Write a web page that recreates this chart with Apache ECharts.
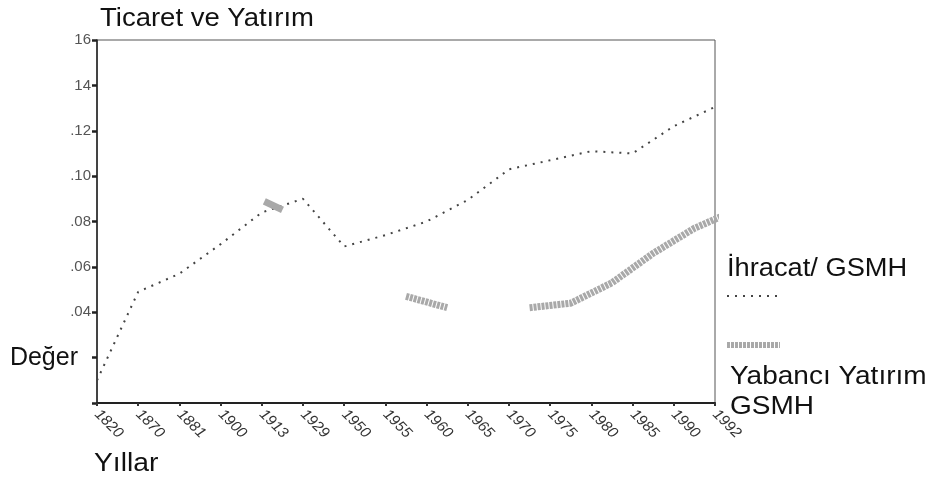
<!DOCTYPE html>
<html>
<head>
<meta charset="utf-8">
<script src="https://cdn.jsdelivr.net/npm/echarts@6/dist/echarts.min.js"></script>
<style>html,body{margin:0;padding:0;background:#fff}#c{width:935px;height:479px}</style>
</head>
<body>
<div id="c"></div>
<script>
const categories = ['1820','1870','1881','1900','1913','1929','1950','1955','1960','1965','1970','1975','1980','1985','1990','1992'];
const exportGdp = [0.010,0.049,0.057,0.070,0.084,0.090,0.069,0.074,0.080,0.0895,0.103,0.107,0.111,0.110,0.122,0.1305];
const fdiGdp = [null,null,null,null,0.087,null,null,0.047,0.042,null,0.042,0.044,0.053,0.066,0.077,0.085];
const yTickLabels = ['', 'Değer', '.04', '.06', '.08', '.10', '.12', '14', '16'];
const seriesNames = ['İhracat/ GSMH', 'Yabancı Yatırım\nGSMH'];

const FONT = 'Liberation Sans, Arial, sans-serif';
const fdiData = fdiGdp.map((v, i) => {
  if (v == null) return [i + 0.5, null];
  const isolated = (i === 0 || fdiGdp[i - 1] == null) && (i === fdiGdp.length - 1 || fdiGdp[i + 1] == null);
  if (isolated) {
    return { value: [i + 0.5, v], symbol: 'rect', symbolSize: [20, 7], symbolRotate: -25, symbolOffset: [-9, 0],
             itemStyle: { color: '#a9a9a9' } };
  }
  return [i + 0.5, v];
});

const chart = echarts.init(document.getElementById('c'));
chart.setOption({
  animation: false,
  backgroundColor: '#fff',
  grid: { left: 97, right: 220, top: 40, bottom: 76, show: true, borderColor: '#555', borderWidth: 1, backgroundColor: 'transparent' },
  xAxis: [{
    type: 'category', data: categories, boundaryGap: false,
    axisLine: { lineStyle: { color: '#222', width: 2 } },
    axisTick: { show: true, length: 3, lineStyle: { color: '#333', width: 2 } },
    axisLabel: { rotate: -45, margin: 9, fontSize: 15, fontStyle: 'italic', color: '#333', fontFamily: FONT, interval: 0 },
    splitLine: { show: false }
  }, {
    type: 'value', min: 0, max: categories.length - 1, show: false, splitLine: { show: false }
  }],
  yAxis: {
    type: 'value', min: 0, max: 0.16, interval: 0.02,
    axisLine: { show: true, lineStyle: { color: '#222', width: 1.5 } },
    axisTick: { show: true, length: 5, lineStyle: { color: '#222', width: 2.5 } },
    splitLine: { show: false },
    axisLabel: {
      margin: 6, fontFamily: FONT,
      formatter: v => {
        const t = yTickLabels[Math.round(v / 0.02)] || '';
        return t === 'Değer' ? '{big|' + t + '}' : '{s|' + t + '}';
      },
      rich: {
        big: { fontSize: 25, color: '#111', fontFamily: FONT, padding: [0, 13, 0, 0] },
        s: { fontSize: 15, color: '#555', fontFamily: FONT }
      }
    }
  },
  series: [{
    name: seriesNames[0], type: 'line', data: exportGdp, showSymbol: false, symbol: 'none',
    lineStyle: { color: '#444', width: 2, type: [2, 6] }
  }, {
    name: seriesNames[1], type: 'line', xAxisIndex: 1, data: fdiData, symbol: 'none', showSymbol: true,
    connectNulls: false, clip: true,
    lineStyle: { color: '#a9a9a9', width: 7, type: [3, 1] }
  }],
  graphic: [
    { type: 'text', x: 100, y: 7, scaleX: 1.1, style: { text: 'Ticaret ve Yatırım', fontSize: 25, fill: '#111', fontFamily: FONT } },
    { type: 'text', x: 94, y: 452, scaleX: 1.13, style: { text: 'Yıllar', fontSize: 25, fill: '#111', fontFamily: FONT } },
    { type: 'text', x: 727, y: 257, scaleX: 1.09, style: { text: seriesNames[0], fontSize: 25, fill: '#111', fontFamily: FONT } },
    { type: 'line', shape: { x1: 727, y1: 296, x2: 780, y2: 296 }, style: { stroke: '#444', lineWidth: 2, lineDash: [2, 6] } },
    { type: 'line', shape: { x1: 727, y1: 345, x2: 780, y2: 345 }, style: { stroke: '#a9a9a9', lineWidth: 6, lineDash: [3, 1] } },
    { type: 'text', x: 730, y: 362, scaleX: 1.12, style: { text: seriesNames[1], fontSize: 25, lineHeight: 30, fill: '#111', fontFamily: FONT } }
  ]
});
</script>
</body>
</html>
